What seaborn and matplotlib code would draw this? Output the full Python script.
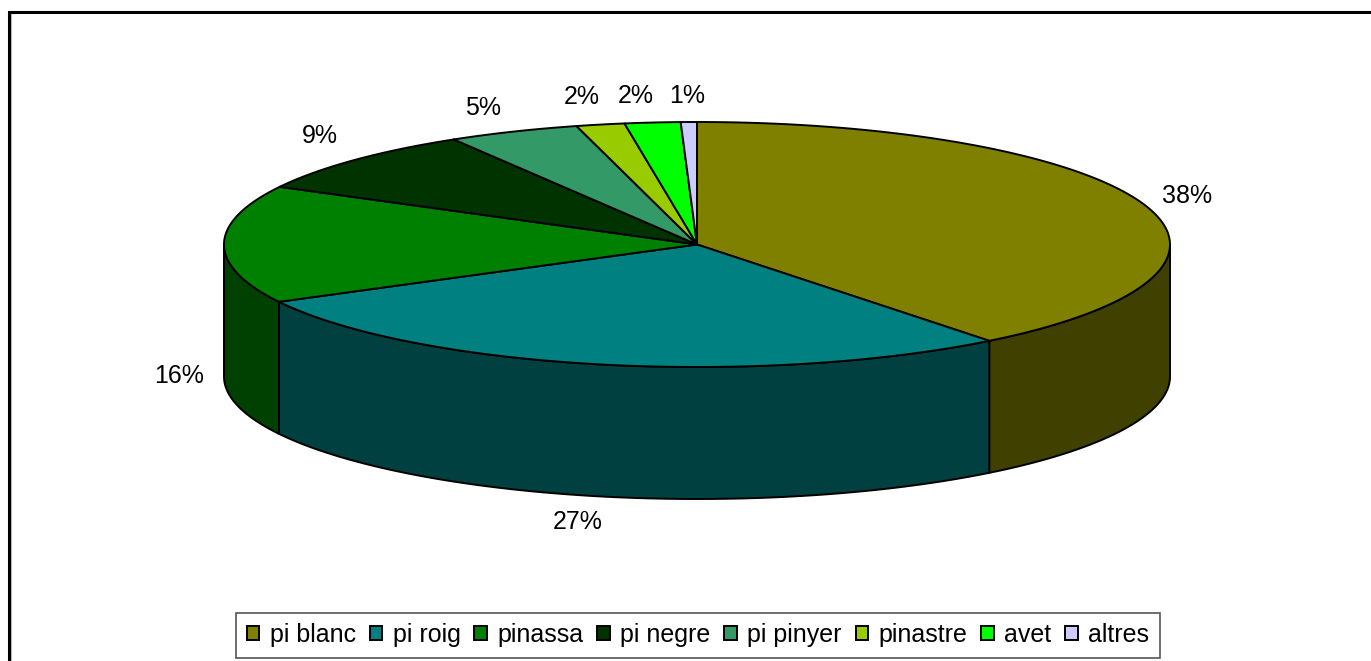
# 3D looking pie of pine species share
import numpy as np
import seaborn as sns
import matplotlib.pyplot as plt
from matplotlib.patches import Patch

# data
species = ['pi blanc', 'pi roig', 'pinassa', 'pi negre', 'pi pinyer', 'pinastre', 'avet', 'altres']
shares = [39.4, 27.85, 15.55, 8.6, 4.5, 1.65, 1.9, 0.55]
pct_labels = ['38%', '27%', '16%', '9%', '5%', '2%', '2%', '1%']
hex_colors = ['#808000', '#008080', '#008000', '#003300', '#339966', '#99CC00', '#00FF00', '#CCCCFF']

# pixel layout
cx, cy = 697, 244.5
rx, ry = 473, 122.5
depth = 132
label_x = [1187, 578, 179, 320, 483, 582, 636, 687]
label_y = [196, 522, 376, 136, 108, 97, 96, 96]

sns.set_theme(style='white')
plt.rcParams['font.family'] = ['Liberation Sans', 'DejaVu Sans']
palette = sns.color_palette(hex_colors)

fig = plt.figure(figsize=(13.71, 6.61), dpi=100)
ax = fig.add_axes([0, 0, 1, 1])
ax.set_xlim(0, 1371)
ax.set_ylim(661, 0)
ax.axis('off')


def rim(a0, a1, n=120):
    # clockwise angle from the top, degrees
    t = np.radians(np.linspace(a0, a1, n))
    return cx + rx * np.sin(t), cy - ry * np.cos(t)


edges = np.concatenate([[0], np.cumsum(shares)]) / np.sum(shares) * 360

# side walls first, only the front half shows
for i, col in enumerate(palette):
    a0, a1 = max(edges[i], 90), min(edges[i + 1], 270)
    if a0 >= a1:
        continue
    x, y = rim(a0, a1)
    side = tuple(c / 2 for c in col)
    ax.fill(np.r_[x, x[::-1]], np.r_[y, y[::-1] + depth], facecolor=side,
            edgecolor='black', linewidth=1.4, joinstyle='round')

# top face
for i, col in enumerate(palette):
    x, y = rim(edges[i], edges[i + 1])
    ax.fill(np.r_[cx, x], np.r_[cy, y], facecolor=col,
            edgecolor='black', linewidth=1.4, joinstyle='round')

for lab, lx, ly in zip(pct_labels, label_x, label_y):
    ax.text(lx, ly, lab, fontsize=18, color='black', ha='center', va='center')

# frame only on the left and top, with a faint grey edge
ax.plot([10.5, 10.5, 1371], [661, 10.5, 10.5], color='#bbbbbb', linewidth=0.8)
ax.plot([9, 9, 1371], [661, 12, 12], color='black', linewidth=2.2, solid_joinstyle='miter')

handles = [Patch(facecolor=c, edgecolor='black', linewidth=1.4) for c in palette]
leg = ax.legend(handles, species, ncol=8, fontsize=18, frameon=True, fancybox=False,
                loc='center', bbox_to_anchor=(698 / 1371, 1 - 635 / 661),
                handlelength=0.5, handleheight=0.5, handletextpad=0.42,
                columnspacing=0.55, borderpad=0.42, borderaxespad=0, labelcolor='black')
leg.get_frame().set_edgecolor('#555555')
leg.get_frame().set_linewidth(1.2)
leg.get_frame().set_alpha(1)

fig.savefig('out.png', dpi=100, facecolor='white')
